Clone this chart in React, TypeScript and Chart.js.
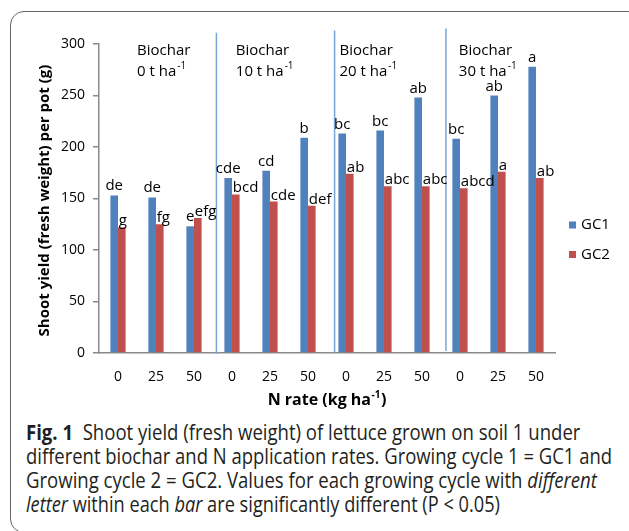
import { useEffect, useLayoutEffect, useRef } from 'react';
import { Chart, registerables } from 'chart.js';

Chart.register(...registerables);

// ---- data ----
const nRateLabels = ['0', '25', '50', '0', '25', '50', '0', '25', '50', '0', '25', '50'];
const gc1Values = [153, 151, 123, 170, 177, 209, 213, 216, 248, 208, 250, 278];
const gc2Values = [122, 125, 131, 154, 147, 143, 174, 162, 162, 160, 176, 170];
const gc1Letters = ['de', 'de', 'e', 'cde', 'cd', 'b', 'bc', 'bc', 'ab', 'bc', 'ab', 'a'];
const gc2Letters = ['g', 'fg', 'efg', 'bcd', 'cde', 'def', 'ab', 'abc', 'abc', 'abcd', 'a', 'ab'];
const seriesNames = ['GC1', 'GC2'];
const biocharRates = ['0', '10', '20', '30'];
const biocharLabelAt = [0.5, 3.1, 5.83, 8.97];
const separatorAt = [2.59, 5.7, 8.63];
const yTicks = [0, 50, 100, 150, 200, 250, 300];

const BLUE = '#4F81BD';
const RED = '#C0504D';
const FONT = '"Open Sans", "DejaVu Sans", sans-serif';

const captionLines: { text: string; italic?: boolean; bold?: boolean }[][] = [
  [{ text: 'Fig. 1', bold: true }, { text: '\u00a0\u00a0Shoot yield (fresh weight) of lettuce grown on soil 1 under' }],
  [{ text: 'different biochar and N application rates. Growing cycle 1 = GC1 and' }],
  [{ text: 'Growing cycle 2 = GC2. Values for each growing cycle with ' }, { text: 'different', italic: true }],
  [{ text: 'letter', italic: true }, { text: ' within each ' }, { text: 'bar', italic: true }, { text: ' are significantly different (P < 0.05)' }],
];
const captionWidths = [554, 586, 571, 474];

const annotate = {
  id: 'annotate',
  afterDatasetsDraw(chart: any) {
    const ctx = chart.ctx as CanvasRenderingContext2D;
    const xs = chart.scales.x;
    const ys = chart.scales.y;
    ctx.save();

    // separators
    ctx.strokeStyle = '#7AA3D8';
    ctx.lineWidth = 1.5;
    separatorAt.forEach((v, i) => {
      const x = xs.getPixelForValue(v);
      ctx.beginPath();
      ctx.moveTo(x, ys.getPixelForValue(311 + i * 2));
      ctx.lineTo(x, ys.getPixelForValue(-1 + i * 1.5));
      ctx.stroke();
    });

    // biochar labels
    ctx.fillStyle = '#000';
    ctx.textBaseline = 'alphabetic';
    ctx.textAlign = 'left';
    biocharRates.forEach((r, i) => {
      const x = xs.getPixelForValue(biocharLabelAt[i]);
      const y1 = ys.getPixelForValue(289);
      ctx.font = `15px ${FONT}`;
      ctx.fillText('Biochar', x, y1);
      const t = `${r} t ha`;
      ctx.fillText(t, x, y1 + 21);
      const w = ctx.measureText(t).width;
      ctx.font = `10px ${FONT}`;
      ctx.fillText('-1', x + w + 1, y1 + 14);
    });

    // bar letters
    ctx.font = `15px ${FONT}`;
    const letters = [gc1Letters, gc2Letters];
    [0, 1].forEach((di) => {
      const meta = chart.getDatasetMeta(di);
      meta.data.forEach((bar: any, j: number) => {
        const { x, y } = bar.getProps(['x', 'y'], true);
        if (di === 0) {
          ctx.textAlign = 'center';
          ctx.fillText(letters[di][j], x, y - 5);
        } else {
          ctx.textAlign = 'left';
          ctx.fillText(letters[di][j], x - 3, y - 2);
        }
      });
    });

    // legend
    const colors = [BLUE, RED];
    ctx.textAlign = 'left';
    ctx.textBaseline = 'middle';
    ctx.font = `15px ${FONT}`;
    seriesNames.forEach((n, i) => {
      const cy = 225 + i * 29.5;
      ctx.fillStyle = colors[i];
      ctx.fillRect(569, cy - 3.5, 7, 7);
      ctx.fillStyle = '#000';
      ctx.fillText(n, 581, cy);
    });

    // axis titles
    ctx.fillStyle = '#000';
    ctx.font = `bold 15px ${FONT}`;
    ctx.textBaseline = 'middle';
    ctx.textAlign = 'center';
    ctx.save();
    ctx.translate(45, (ys.top + ys.bottom) / 2 + 2);
    ctx.rotate(-Math.PI / 2);
    ctx.fillText('Shoot yield (fresh weight) per pot (g)', 0, 0);
    ctx.restore();

    const main = 'N rate (kg ha';
    ctx.font = `bold 16px ${FONT}`;
    const mw = ctx.measureText(main).width;
    ctx.font = `bold 10px ${FONT}`;
    const sw = ctx.measureText('-1').width;
    ctx.font = `bold 16px ${FONT}`;
    const pw = ctx.measureText(')').width;
    const total = mw + sw + pw + 1;
    const cx = (xs.left + xs.right) / 2;
    let sx = cx - total / 2;
    ctx.textAlign = 'left';
    ctx.textBaseline = 'alphabetic';
    const by = 405;
    ctx.fillText(main, sx, by);
    sx += mw;
    ctx.font = `bold 10px ${FONT}`;
    ctx.fillText('-1', sx + 0.5, by - 7);
    sx += sw + 1;
    ctx.font = `bold 16px ${FONT}`;
    ctx.fillText(')', sx, by);

    ctx.restore();
  },
};

export default function App() {
  const canvasRef = useRef<HTMLCanvasElement | null>(null);
  const lineRefs = useRef<(HTMLDivElement | null)[]>([]);

  useLayoutEffect(() => {
    lineRefs.current.forEach((el, i) => {
      if (!el) return;
      el.style.transform = 'none';
      const w = el.scrollWidth;
      if (w > 0) el.style.transform = `scaleX(${captionWidths[i] / w})`;
    });
  }, []);

  useEffect(() => {
    if (!canvasRef.current) return;
    const chart = new Chart(canvasRef.current, {
      type: 'bar',
      data: {
        labels: nRateLabels,
        datasets: [
          { label: seriesNames[0], data: gc1Values, backgroundColor: BLUE, borderWidth: 0 },
          { label: seriesNames[1], data: gc2Values, backgroundColor: RED, borderWidth: 0 },
        ],
      },
      options: {
        animation: false,
        responsive: false,
        devicePixelRatio: 1,
        datasets: { bar: { barPercentage: 1, categoryPercentage: 0.4 } },
        layout: { padding: { left: 0, top: 44, right: 74, bottom: 0 } },
        plugins: { legend: { display: false }, tooltip: { enabled: false } },
        scales: {
          x: {
            grid: { display: true, drawOnChartArea: false, drawTicks: false },
            border: { display: true, color: '#8a8a8a', width: 1.5 },
            ticks: { color: '#000', font: { family: FONT, size: 14 }, padding: 16 },
            afterFit: (s: any) => { s.height = 58; },
          },
          y: {
            min: 0,
            max: 300,
            afterBuildTicks: (s: any) => { s.ticks = yTicks.map((v) => ({ value: v })); },
            grid: { display: true, drawOnChartArea: false, drawTicks: true, tickLength: 6, color: '#8a8a8a', lineWidth: 1.5 },
            border: { display: true, color: '#8a8a8a', width: 1.5 },
            ticks: { color: '#000', font: { family: FONT, size: 14 }, padding: 8 },
            afterFit: (s: any) => { s.width = 99; },
          },
        },
      },
      plugins: [annotate],
    });
    return () => chart.destroy();
  }, []);

  return (
    <div style={{ position: 'absolute', left: 0, top: 0, width: 629, height: 531, overflow: 'hidden', background: '#fff' }}>
      <div
        style={{
          position: 'absolute', left: 10, top: 11, width: 632, height: 522,
          border: '1.5px solid #666', borderRadius: 14, boxSizing: 'border-box',
        }}
      />
      <canvas ref={canvasRef} width={629} height={411} style={{ position: 'absolute', left: 0, top: 0 }} />
      <div style={{ position: 'absolute', left: 26, top: 420, fontFamily: FONT, fontSize: 21, lineHeight: '24px', color: '#231f20' }}>
        {captionLines.map((line, i) => (
          <div
            key={i}
            ref={(el) => { lineRefs.current[i] = el; }}
            style={{ whiteSpace: 'nowrap', transformOrigin: 'left center', width: 'max-content' }}
          >
            {line.map((seg, k) => (
              <span key={k} style={{ fontStyle: seg.italic ? 'italic' : 'normal', fontWeight: seg.bold ? 700 : 400 }}>
                {seg.text}
              </span>
            ))}
          </div>
        ))}
      </div>
    </div>
  );
}
